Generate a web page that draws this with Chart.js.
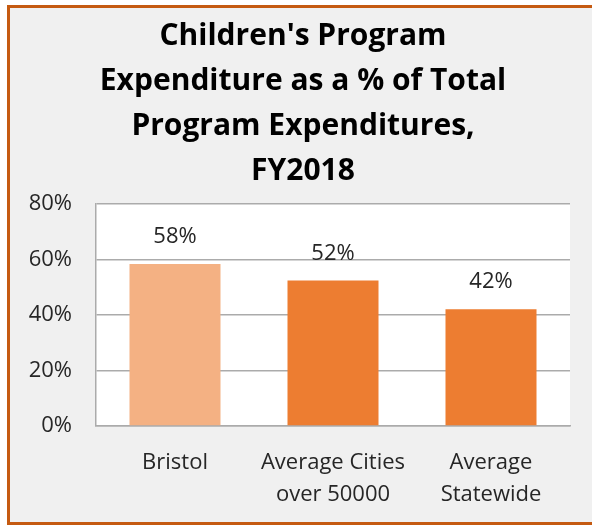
<!DOCTYPE html>
<html>
<head>
<meta charset="utf-8">
<script src="https://cdn.jsdelivr.net/npm/chart.js@4"></script>
<style>
    html, body { margin: 0; padding: 0; background: #ffffff; overflow: hidden; width: 592px; height: 525px; }
    .frame {
        position: absolute; left: 7px; top: 5px; width: 620px; height: 514px;
        border: 3px solid #C55A11; background: #F0F0F0;
    }
    .wrap { position: absolute; left: 10px; top: 8px; width: 586px; height: 514px; }
</style>
</head>
<body>
<div class="frame"></div>
<div class="wrap"><canvas id="chart"></canvas></div>
<script>
// Chart data
const categories = [['Bristol'], ['Average Cities', 'over 50000'], ['Average', 'Statewide']];
const values = [58.4, 52.4, 42.1];
const barColors = ['#F4B183', '#ED7D31', '#ED7D31'];
const yTicks = [0, 20, 40, 60, 80];
const titleLines = ["Children's Program", 'Expenditure as a % of Total', 'Program Expenditures,', 'FY2018'];

const FONT = '"Open Sans", sans-serif';

// white plot background
const plotBg = {
    id: 'plotBg',
    beforeDraw(chart) {
        const a = chart.chartArea;
        const ctx = chart.ctx;
        ctx.save();
        ctx.fillStyle = '#ffffff';
        ctx.fillRect(a.left, a.top, a.right - a.left, a.bottom - a.top);
        ctx.restore();
    }
};

// value labels above the bars
const barLabels = {
    id: 'barLabels',
    afterDatasetsDraw(chart) {
        const ctx = chart.ctx;
        const meta = chart.getDatasetMeta(0);
        ctx.save();
        ctx.font = '22px ' + FONT;
        ctx.fillStyle = '#262626';
        ctx.textAlign = 'center';
        ctx.textBaseline = 'middle';
        meta.data.forEach((bar, i) => {
            ctx.fillText(Math.round(values[i]) + '%', bar.x, bar.y - 27);
        });
        ctx.restore();
    }
};

new Chart(document.getElementById('chart'), {
    type: 'bar',
    data: {
        labels: categories,
        datasets: [{
            data: values,
            backgroundColor: barColors,
            borderWidth: 0,
            categoryPercentage: 1,
            barPercentage: 0.576
        }]
    },
    options: {
        responsive: true,
        maintainAspectRatio: false,
        animation: false,
        layout: { padding: 0 },
        plugins: {
            legend: { display: false },
            tooltip: { enabled: false },
            title: {
                display: true,
                text: titleLines,
                color: '#000000',
                font: { family: FONT, size: 30, weight: 'bold', lineHeight: 1.5 },
                padding: { top: 6, bottom: 10 }
            }
        },
        scales: {
            x: {
                grid: { display: false, drawTicks: false },
                border: { display: true, color: '#ABABAB', width: 1.5 },
                ticks: {
                    color: '#262626',
                    font: { family: FONT, size: 22, lineHeight: 1.45 },
                    padding: 21,
                    maxRotation: 0,
                    autoSkip: false
                },
                afterFit(scale) { scale.height = 96; }
            },
            y: {
                min: 0,
                max: 80,
                afterBuildTicks(scale) { scale.ticks = yTicks.map(v => ({ value: v })); },
                grid: { color: '#ABABAB', lineWidth: 1.5, drawTicks: false },
                border: { display: true, color: '#ABABAB', width: 1.5 },
                ticks: {
                    color: '#262626',
                    font: { family: FONT, size: 22 },
                    padding: 24,
                    callback: v => v + '%'
                },
                afterFit(scale) { scale.width = 86; }
            },
            // empty right-hand space so the title stays centred on the whole frame
            yRight: {
                position: 'right',
                grid: { display: false, drawTicks: false },
                border: { display: false },
                ticks: { display: false },
                afterFit(scale) { scale.width = 26; }
            }
        }
    },
    plugins: [plotBg, barLabels]
});
</script>
</body>
</html>
